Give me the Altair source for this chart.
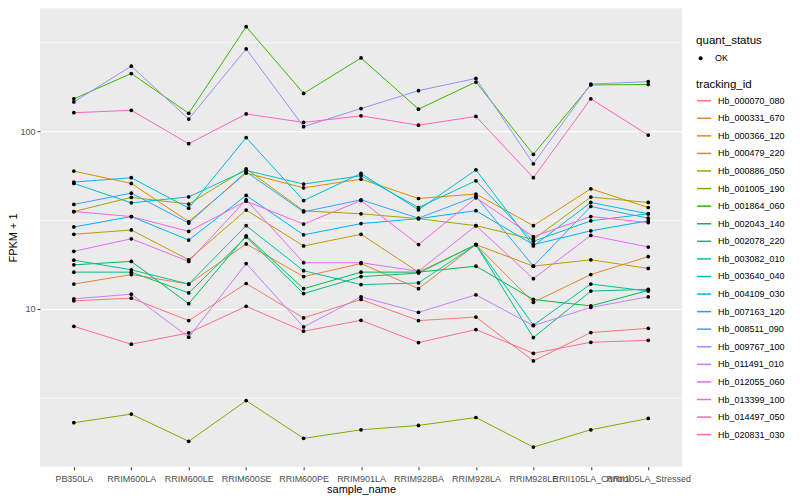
import altair as alt
import pandas as pd

samples = ["PB350LA", "RRIM600LA", "RRIM600LE", "RRIM600SE", "RRIM600PE", "RRIM901LA",
           "RRIM928BA", "RRIM928LA", "RRIM928LE", "RRII105LA_Control", "RRII105LA_Stressed"]

tracking_ids = ["Hb_000070_080", "Hb_000331_670", "Hb_000366_120", "Hb_000479_220", "Hb_000886_050",
                "Hb_001005_190", "Hb_001864_060", "Hb_002043_140", "Hb_002078_220", "Hb_003082_010",
                "Hb_003640_040", "Hb_004109_030", "Hb_007163_120", "Hb_008511_090", "Hb_009767_100",
                "Hb_011491_010", "Hb_012055_060", "Hb_013399_100", "Hb_014497_050", "Hb_020831_030"]

palette = ["#F8766D", "#EA8331", "#D89000", "#C09B00", "#A3A500", "#7CAE00", "#39B600", "#00BB4E",
           "#00BF7D", "#00C1A3", "#00BFC4", "#00BAE0", "#00B0F6", "#35A2FF", "#9590FF", "#C77CFF",
           "#E76BF3", "#FA62DB", "#FF62BC", "#FF6C91"]

v_000070_080 = [11.1, 11.5, 8.6, 13.9, 8.9, 11.3, 8.6, 9.0, 5.1, 7.36, 7.78]
v_000331_670 = [13.8, 15.6, 13.8, 23.2, 15.2, 18.0, 13.0, 23.0, 10.9, 15.6, 19.7]
v_000366_120 = [59.6, 50.8, 31.0, 58.1, 48.0, 53.7, 41.8, 44.3, 29.4, 47.4, 37.2]
v_000479_220 = [26.3, 27.8, 18.9, 36.0, 22.6, 26.3, 16.1, 23.0, 17.4, 18.9, 16.9]
v_000886_050 = [35.3, 42.4, 38.9, 61.4, 35.6, 34.3, 32.2, 29.4, 24.6, 42.6, 39.7]
v_001005_190 = [2.29, 2.56, 1.80, 3.05, 1.87, 2.09, 2.21, 2.45, 1.67, 2.09, 2.42]
v_001864_060 = [152, 211, 126, 387, 163, 258, 133, 189, 74, 182, 183]
v_002043_140 = [17.7, 18.5, 10.7, 25.8, 13.0, 16.1, 16.1, 17.4, 11.3, 10.4, 12.7]
v_002078_220 = [16.1, 16.1, 12.3, 25.4, 12.2, 15.2, 15.9, 23.0, 6.9, 12.6, 12.9]
v_003082_010 = [18.8, 16.6, 13.8, 29.4, 16.4, 13.7, 14.0, 23.0, 8.1, 13.8, 12.6]
v_003640_040 = [50.8, 39.5, 42.7, 60.1, 50.4, 56.1, 37.2, 52.6, 24.0, 31.3, 34.3]
v_004109_030 = [51.7, 54.7, 36.9, 92.0, 40.7, 57.8, 36.1, 60.6, 22.6, 39.7, 34.3]
v_007163_120 = [28.9, 33.1, 24.4, 43.5, 26.1, 30.2, 32.2, 35.7, 23.0, 27.5, 31.3]
v_008511_090 = [38.7, 44.8, 30.4, 59.0, 35.2, 41.1, 32.4, 43.0, 17.4, 37.7, 32.4]
v_009767_100 = [146, 232, 117, 290, 106, 134, 169, 198, 65.5, 184, 190]
v_011491_010 = [11.4, 12.1, 6.93, 18.0, 7.92, 11.7, 9.57, 12.0, 8.05, 10.2, 11.7]
v_012055_060 = [21.1, 24.8, 18.5, 41.1, 18.2, 18.2, 16.3, 29.4, 14.8, 25.9, 22.3]
v_013399_100 = [35.3, 33.1, 27.3, 40.4, 30.0, 40.7, 23.0, 42.2, 25.5, 33.1, 30.6]
v_014497_050 = [127, 131, 85, 125, 112, 122, 108, 121, 54.7, 152, 95]
v_020831_030 = [7.98, 6.33, 7.33, 10.35, 7.49, 8.63, 6.47, 7.65, 5.63, 6.49, 6.66]

series = [v_000070_080, v_000331_670, v_000366_120, v_000479_220, v_000886_050, v_001005_190,
          v_001864_060, v_002043_140, v_002078_220, v_003082_010, v_003640_040, v_004109_030,
          v_007163_120, v_008511_090, v_009767_100, v_011491_010, v_012055_060, v_013399_100,
          v_014497_050, v_020831_030]

rows = []
for tid, vals in zip(tracking_ids, series):
    for s, v in zip(samples, vals):
        rows.append({"tracking_id": tid, "sample_name": s, "fpkm1": v, "quant_status": "OK"})
df = pd.DataFrame(rows)

FONT = "Liberation Sans"
H = 459
MAJOR = "datum.value == 10 || datum.value == 100"

x_enc = alt.X("sample_name:N", sort=samples, title="sample_name",
              scale=alt.Scale(padding=0.59),
              axis=alt.Axis(labelAngle=0, labelOverlap=False, labelFontSize=9, labelColor="#4D4D4D",
                            tickColor="#333333", tickSize=3, labelPadding=5,
                            titleFontSize=11, titleFontWeight="normal", titleColor="#000000",
                            titlePadding=0, domain=False, gridColor="#FFFFFF", gridWidth=1.1,
                            labelFont=FONT, titleFont=FONT))

y_enc = alt.Y("fpkm1:Q", title="FPKM + 1",
              scale=alt.Scale(type="log", domain=[1.295, 491], nice=False, zero=False),
              axis=alt.Axis(values=[3.1623, 10, 31.623, 100, 316.23],
                            labelExpr="(" + MAJOR + ") ? datum.label : ''",
                            format="d",
                            labelFontSize=9, labelColor="#4D4D4D", tickSize=3,
                            tickColor={"condition": {"test": MAJOR, "value": "#333333"},
                                       "value": "rgba(0,0,0,0)"},
                            gridColor="#FFFFFF",
                            gridWidth={"condition": {"test": MAJOR, "value": 1.1}, "value": 0.7},
                            titleFontSize=11, titleFontWeight="normal", titleColor="#000000",
                            titleX=-26, titleY=H / 2, titleAngle=270, titleAlign="center",
                            titleBaseline="middle",
                            domain=False, labelPadding=2,
                            labelFont=FONT, titleFont=FONT))

lines = alt.Chart(df).mark_line(strokeWidth=1).encode(
    x=x_enc, y=y_enc,
    color=alt.Color("tracking_id:N", scale=alt.Scale(domain=tracking_ids, range=palette),
                    legend=alt.Legend(title="tracking_id", symbolType="stroke", symbolStrokeWidth=1.5,
                                      symbolSize=200, labelFontSize=9, titleFontSize=11.5,
                                      titleFontWeight="normal", rowPadding=4.6, orient="none",
                                      legendX=657, legendY=71, labelFont=FONT, titleFont=FONT,
                                      titlePadding=2, labelOffset=6,
                                      labelColor="#000000", titleColor="#000000")),
    detail="tracking_id:N",
)

points = alt.Chart(df).mark_point(filled=True, size=14, opacity=1).encode(
    x=alt.X("sample_name:N", sort=samples),
    y="fpkm1:Q",
    shape=alt.Shape("quant_status:N", scale=alt.Scale(domain=["OK"], range=["circle"]),
                    legend=alt.Legend(title="quant_status", labelFontSize=9, titleFontSize=11.5,
                                      titleFontWeight="normal", symbolFillColor="#000000",
                                      symbolStrokeColor="#000000", symbolSize=16, orient="none",
                                      legendX=657, legendY=27, labelFont=FONT, titleFont=FONT,
                                      titlePadding=7, labelOffset=10,
                                      labelColor="#000000", titleColor="#000000")),
    color=alt.value("#000000"),
)

chart = alt.layer(lines, points).properties(
    width=643, height=H,
    autosize=alt.AutoSizeParams(type="none"),
    padding={"left": 32, "top": 0, "right": 110, "bottom": 30},
).configure_view(fill="#EBEBEB", stroke=None)

chart.save("out.html", embed_options={"renderer": "svg", "actions": False})
